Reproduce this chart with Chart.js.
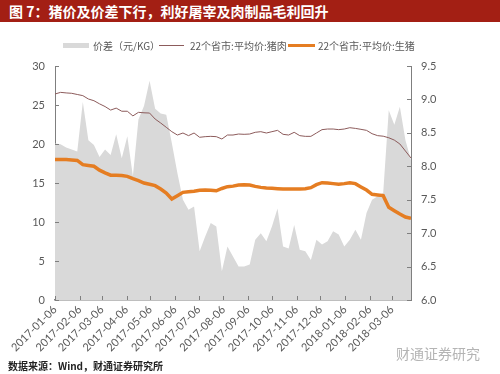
<!DOCTYPE html>
<html>
<head>
<meta charset="utf-8">
<script src="https://cdn.jsdelivr.net/npm/chart.js@4.4.0/dist/chart.umd.min.js"></script>
<style>
body{margin:0;width:500px;height:374px;overflow:hidden;background:#fff;position:relative;font-family:"Noto Sans CJK SC",sans-serif}
#title{position:absolute;left:0;top:0;width:500px;height:22px;background:#a31f14;color:#fff;font-weight:bold;font-size:14px;line-height:22px;padding-left:9px;box-sizing:border-box;white-space:nowrap}
#wrap{position:absolute;left:0;top:0;width:500px;height:374px}
.lg{position:absolute;top:38px;font-size:10px;color:#595959;line-height:15px;white-space:nowrap}
.sw{position:absolute}
#src{position:absolute;left:8px;top:358px;font-size:10px;font-weight:bold;color:#222;white-space:nowrap}
#mark{position:absolute;left:396px;top:343px;font-size:14px;color:#b4b4b4;white-space:nowrap}
</style>
</head>
<body>
<div id="wrap"><canvas id="graph"></canvas></div>
<div id="title">图 7：猪价及价差下行，利好屠宰及肉制品毛利回升</div>
<div class="sw" style="left:63px;top:43px;width:26px;height:5px;background:#d9d9d9"></div>
<div class="lg" style="left:93px">价差（元/KG）</div>
<div class="sw" style="left:159px;top:45px;width:25px;height:1px;background:#8c5b5b"></div>
<div class="lg" style="left:190px">22个省市:平均价:猪肉</div>
<div class="sw" style="left:288px;top:44px;width:27px;height:3px;background:#e57d22"></div>
<div class="lg" style="left:318px">22个省市:平均价:生猪</div>
<div id="mark">财通证券研究</div>
<div id="src">数据来源：Wind，财通证券研究所</div>
<script>
// weekly dates
const weeks = ['2017-01-06','2017-01-13','2017-01-20','2017-01-27','2017-02-03','2017-02-10','2017-02-17','2017-02-24',
  '2017-03-03','2017-03-10','2017-03-17','2017-03-24','2017-03-31','2017-04-07','2017-04-14','2017-04-21','2017-04-28',
  '2017-05-05','2017-05-12','2017-05-19','2017-05-26','2017-06-02','2017-06-09','2017-06-16','2017-06-23','2017-06-30',
  '2017-07-07','2017-07-14','2017-07-21','2017-07-28','2017-08-04','2017-08-11','2017-08-18','2017-08-25',
  '2017-09-01','2017-09-08','2017-09-15','2017-09-22','2017-09-29','2017-10-06','2017-10-13','2017-10-20','2017-10-27',
  '2017-11-03','2017-11-10','2017-11-17','2017-11-24','2017-12-01','2017-12-08','2017-12-15','2017-12-22','2017-12-29',
  '2018-01-05','2018-01-12','2018-01-19','2018-01-26','2018-02-02','2018-02-09','2018-02-16','2018-02-23',
  '2018-03-02','2018-03-09','2018-03-16','2018-03-23','2018-03-30'];

const xLabels = ['2017-01-06','2017-02-06','2017-03-06','2017-04-06','2017-05-06','2017-06-06','2017-07-06','2017-08-06',
  '2017-09-06','2017-10-06','2017-11-06','2017-12-06','2018-01-06','2018-02-06','2018-03-06'];

// 价差 (right axis)
const spread = [8.34,8.33,8.28,8.25,8.22,8.96,8.39,8.32,8.14,8.25,8.17,8.48,8.12,8.45,7.85,8.7,8.9,9.28,8.86,8.79,
  8.77,8.35,7.9,7.5,7.35,7.4,6.73,6.95,7.15,7.1,6.43,6.8,6.65,6.5,6.5,6.53,6.9,7.0,6.88,7.1,
  7.37,6.8,6.77,7.12,6.75,6.73,6.6,6.9,6.83,6.88,7.03,6.98,6.8,6.9,7.05,6.9,7.3,7.5,7.55,7.6,
  8.84,8.62,8.89,8.39,8.09];

// 猪肉 (left axis)
const pork = [26.41,26.62,26.55,26.5,26.35,26.2,25.77,25.55,25.15,24.8,24.35,24.6,24.2,24.2,23.6,24.06,24.0,23.97,23.2,22.69,
  22.14,21.58,21.15,21.41,21.07,21.41,20.86,20.94,20.98,20.94,20.64,21.15,21.15,21.28,21.24,21.28,21.5,21.58,21.41,21.58,
  21.75,21.24,21.15,21.5,21.07,20.98,20.98,21.41,21.84,21.92,21.92,21.84,21.92,22.09,22.0,21.88,21.75,21.32,21.07,21.0,
  20.8,20.5,20.0,19.1,18.2];

// 生猪 (left axis)
const hog = [18.0,18.0,18.0,17.95,17.9,17.35,17.25,17.15,16.65,16.3,16.0,15.98,15.95,15.85,15.55,15.3,15.0,14.83,14.66,14.23,
  13.72,12.95,13.38,13.8,13.89,13.93,14.06,14.1,14.06,14.0,14.3,14.53,14.6,14.74,14.79,14.74,14.57,14.44,14.36,14.32,
  14.27,14.23,14.23,14.23,14.23,14.27,14.4,14.79,15.04,15.0,14.92,14.83,14.92,15.04,14.92,14.5,14.1,13.55,13.47,13.38,
  11.9,11.45,11.02,10.64,10.47];

const t0 = Date.parse(weeks[0]);
function dayOf(s){ return Math.round((Date.parse(s) - t0) / 86400000); }
function pts(arr){ return arr.map((v, i) => ({x: dayOf(weeks[i]), y: v})); }

const tickFont = {family: 'Lato', size: 11};
const grey = '#7f7f7f';

const innerTicks = {
  id: 'innerTicks',
  afterDraw(chart){
    const {ctx, chartArea: a, scales} = chart;
    ctx.save();
    ctx.strokeStyle = grey;
    ctx.lineWidth = 1;
    ctx.beginPath();
    scales.y.ticks.forEach(t => {
      const p = Math.round(scales.y.getPixelForValue(t.value)) + 0.5;
      ctx.moveTo(a.left, p); ctx.lineTo(a.left + 4, p);
    });
    scales.y1.ticks.forEach(t => {
      const p = Math.round(scales.y1.getPixelForValue(t.value)) + 0.5;
      ctx.moveTo(a.right, p); ctx.lineTo(a.right - 4, p);
    });
    scales.x.ticks.forEach(t => {
      const p = Math.round(scales.x.getPixelForValue(t.value)) + 0.5;
      ctx.moveTo(p, a.bottom); ctx.lineTo(p, a.bottom - 4);
    });
    ctx.stroke();
    ctx.restore();
  }
};

const ctx = document.getElementById('graph');
const chart = new Chart(ctx, {
  type: 'line',
  data: {
    datasets: [
      {label: '价差（元/KG）', data: pts(spread), yAxisID: 'y1', fill: 'start',
       backgroundColor: '#d9d9d9', borderWidth: 0, pointRadius: 0, order: 10},
      {label: '22个省市:平均价:猪肉', data: pts(pork), yAxisID: 'y', borderColor: '#8c5b5b',
       borderWidth: 1, pointRadius: 0, fill: false, order: 2},
      {label: '22个省市:平均价:生猪', data: pts(hog), yAxisID: 'y', borderColor: '#e57d22',
       borderWidth: 3.5, pointRadius: 0, fill: false, order: 1}
    ]
  },
  options: {
    responsive: true,
    maintainAspectRatio: false,
    animation: false,
    layout: {padding: {top: 66, left: 0, right: 0, bottom: 0}},
    plugins: {legend: {display: false}, tooltip: {enabled: false}},
    scales: {
      x: {
        type: 'linear', min: 0, max: dayOf('2018-03-30'),
        grid: {display: true, drawOnChartArea: false, drawTicks: false},
        border: {color: grey, width: 1.5},
        afterBuildTicks: s => { s.ticks = xLabels.map(l => ({value: dayOf(l)})); },
        afterFit: s => { s.height = 74; },
        ticks: {autoSkip: false, minRotation: 45, maxRotation: 45, padding: 3, color: '#595959', font: tickFont,
          callback: v => xLabels.find(l => dayOf(l) === v) || ''}
      },
      y: {
        position: 'left', min: 0, max: 30,
        grid: {display: true, drawOnChartArea: false, drawTicks: false},
        border: {color: grey, width: 1},
        afterFit: s => { s.width = 55; },
        ticks: {stepSize: 5, padding: 10, color: '#595959', font: tickFont}
      },
      y1: {
        position: 'right', min: 6, max: 9.5,
        grid: {display: true, drawOnChartArea: false, drawTicks: false},
        border: {color: grey, width: 1},
        afterFit: s => { s.width = 89; },
        ticks: {stepSize: 0.5, padding: 10, color: '#595959', font: tickFont, callback: v => v.toFixed(1)}
      }
    }
  },
  plugins: [innerTicks]
});
</script>
</body>
</html>
